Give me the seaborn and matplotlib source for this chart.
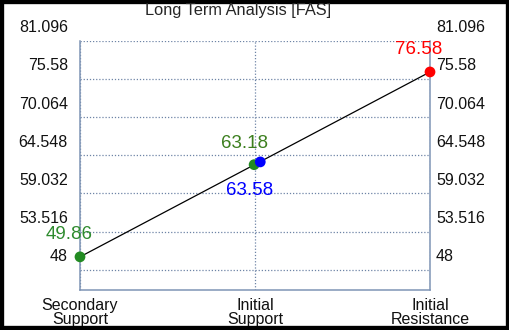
import matplotlib
matplotlib.use('Agg')
import matplotlib.pyplot as plt
import matplotlib.transforms as mtransforms
import seaborn as sns
import pandas as pd

# chart data
categories = ['Secondary\nSupport', 'Initial\nSupport', 'Initial\nResistance']
tick_values = [48, 53.516, 59.032, 64.548, 70.064, 75.58, 81.096]
tick_labels = ['48', '53.516', '59.032', '64.548', '70.064', '75.58', '81.096']
line_x = [0, 2]
line_y = [49.86, 76.58]
point_x = [0, 0.995, 1.03, 2]
point_y = [49.86, 63.18, 63.58, 76.58]
point_names = ['Secondary Support', 'Initial Support', 'Initial Support 2', 'Initial Resistance']
point_colors = ['#228b22', '#228b22', '#0000ff', '#ff0000']
label_text = ['49.86', '63.18', '63.58', '76.58']
label_offsets = [(-11, 22), (-10, 21), (-11, -29), (-11, 22)]
label_colors = ['#2e8b2e', '#3c7f1e', '#0000ff', '#ff0000']

sns.set_style('white')
plt.rcParams['font.family'] = ['Liberation Sans', 'DejaVu Sans']

fig = plt.figure(figsize=(5.1, 3.3), dpi=100)
ax = fig.add_axes([80/510, 1 - 290/330, 350/510, (290 - 40.7)/330])

line_df = pd.DataFrame({'x': line_x, 'y': line_y})
sns.lineplot(data=line_df, x='x', y='y', color='black', linewidth=0.9, ax=ax)

pts = pd.DataFrame({'x': point_x, 'y': point_y, 'name': point_names})
sns.scatterplot(data=pts, x='x', y='y', hue='name', palette=point_colors,
                s=60, edgecolor='none', legend=False, ax=ax, zorder=5, clip_on=False)

for i, txt in enumerate(label_text):
    ax.annotate(txt, (point_x[i], point_y[i]), xytext=label_offsets[i],
                textcoords='offset pixels', ha='center', va='center',
                fontsize=13.5, color=label_colors[i])

ax.set_xlim(0, 2)
ax.set_ylim(45.07, 81.096)
ax.set_xticks([0, 1, 2])
ax.set_xticklabels(categories, fontsize=11.5, linespacing=0.92)
ax.set_yticks(tick_values)
ax.set_yticklabels([])
ax.set_xlabel('')
ax.set_ylabel('')

grid_col = '#6e84a6'
ax.grid(True, axis='both', color=grid_col, linestyle=(0, (1, 1.5)), linewidth=0.9)
for side in ['left', 'right', 'bottom']:
    ax.spines[side].set_color('#7f95b5')
    ax.spines[side].set_linewidth(1.1)
ax.spines['top'].set_visible(False)

ax.tick_params(axis='y', length=0)
ax.tick_params(axis='x', length=0, pad=6, labelcolor='#111111')

# y labels sit above their grid lines, on both sides
ytrans = ax.get_yaxis_transform()
left_off = ytrans + mtransforms.ScaledTranslation(-12/100, 13/100, fig.dpi_scale_trans)
right_off = ytrans + mtransforms.ScaledTranslation(6/100, 13/100, fig.dpi_scale_trans)
for v, lab in zip(tick_values, tick_labels):
    ax.text(0, v, lab, transform=left_off, ha='right', va='center',
            fontsize=11.5, color='#111111', clip_on=False)
    ax.text(1, v, lab, transform=right_off, ha='left', va='center',
            fontsize=11.5, color='#111111', clip_on=False)

fig.text(238/510, 1 - 10/330, 'Long Term Analysis [FAS]', ha='center', va='center', fontsize=11.8)

# black frame around the figure
fig.patches.append(plt.Rectangle((0, 0), 1, 1, transform=fig.transFigure,
                                 fill=False, edgecolor='black', linewidth=6))

fig.savefig('out.png', dpi=100)
